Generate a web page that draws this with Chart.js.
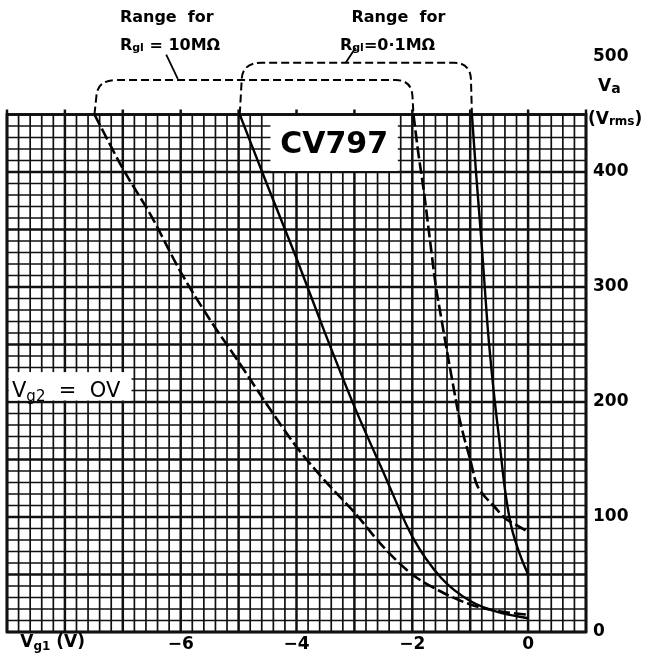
<!DOCTYPE html>
<html>
<head>
<meta charset="utf-8">
<script src="https://cdn.jsdelivr.net/npm/chart.js@4.4.1/dist/chart.umd.min.js"></script>
<style>
  html, body { margin: 0; padding: 0; background: #fff; }
</style>
</head>
<body>
<canvas id="cv797" width="650" height="664"></canvas>
<script>
// Vg1 (V) against output Va (Vrms)
// dashed = Rg1 10M, solid = Rg1 0.1M
const vgDashLeft = [-7.49, -7.0, -6.5, -6.0, -5.5, -5.0, -4.5, -4.0, -3.5, -3.0, -2.5, -2.0, -1.5, -1.0, -0.5, 0];
const vaDashLeft = [450, 403, 361, 313, 272, 235, 197, 161, 131, 104, 74, 50, 35, 24, 18, 15];

const vgSolidLeft = [-4.98, -4.5, -4.0, -3.5, -3.0, -2.5, -2.0, -1.5, -1.0, -0.5, 0];
const vaSolidLeft = [450, 388, 325, 259, 196, 139, 83, 47, 27, 17, 12];

const vgDashRight = [-1.98, -1.9, -1.8, -1.7, -1.6, -1.5, -1.4, -1.3, -1.2, -1.1, -1.0, -0.9, -0.8, -0.6, -0.4, -0.2, 0];
const vaDashRight = [450, 418, 383, 343, 303, 273, 244, 216, 189, 168, 150, 130, 121, 110, 99, 93, 87];

const vgSolidRight = [-0.97, -0.9, -0.8, -0.7, -0.6, -0.5, -0.4, -0.3, -0.2, -0.1, 0];
const vaSolidRight = [450, 400, 336, 266, 212, 168, 124, 94, 76, 62, 50];

const xTicks = [-6, -4, -2, 0];
const yTicks = [0, 100, 200, 300, 400, 500];

const xMin = -9, xMax = 1;
const yMin = 0, yMax = 500, gridTop = 450;

function pts(xs, ys) {
    return xs.map((v, i) => ({x: v, y: ys[i]}));
}

const FONT = '"DejaVu Sans", sans-serif';

// text with a lowered small part, e.g. V + g1
function subText(ctx, parts, x, y) {
    parts.forEach(p => {
        ctx.font = p[1];
        ctx.fillText(p[0], x, y + (p[2] || 0));
        x += ctx.measureText(p[0]).width;
    });
}

const paperGrid = {
    id: 'paperGrid',
    beforeDatasetsDraw(chart) {
        const ctx = chart.ctx;
        const x = chart.scales.x, y = chart.scales.y;
        const L = x.getPixelForValue(xMin), R = x.getPixelForValue(xMax);
        const T = y.getPixelForValue(gridTop), B = y.getPixelForValue(yMin);
        ctx.save();
        ctx.strokeStyle = '#111';
        for (let i = 0; i <= 50; i++) {
            const px = x.getPixelForValue(xMin + i * 0.2);
            const major = i % 5 === 0;
            ctx.lineWidth = major ? 2.5 : 1.7;
            ctx.beginPath();
            ctx.moveTo(px, B);
            ctx.lineTo(px, major ? T - 5 : T);
            ctx.stroke();
        }
        for (let j = 0; j <= 45; j++) {
            const py = y.getPixelForValue(j * 10);
            ctx.lineWidth = j % 5 === 0 ? 2.5 : 1.7;
            ctx.beginPath();
            ctx.moveTo(L, py);
            ctx.lineTo(R, py);
            ctx.stroke();
        }

        // white label boxes cut into the paper
        ctx.fillStyle = '#fff';
        let bx = x.getPixelForValue(-4.45), bx2 = x.getPixelForValue(-2.25);
        let by = y.getPixelForValue(450), by2 = y.getPixelForValue(400);
        ctx.fillRect(bx, by + 1.5, bx2 - bx, by2 - by - 2.5);
        ctx.fillStyle = '#000';
        ctx.font = 'bold 30px ' + FONT;
        ctx.textAlign = 'center';
        ctx.textBaseline = 'middle';
        ctx.fillText('CV797', (bx + bx2) / 2, (by + by2) / 2 + 2);

        bx = L; bx2 = x.getPixelForValue(-6.85);
        by = y.getPixelForValue(226); by2 = y.getPixelForValue(200);
        ctx.fillStyle = '#fff';
        ctx.fillRect(bx + 1.5, by, bx2 - bx - 1.5, by2 - by - 1.5);
        ctx.fillStyle = '#000';
        ctx.textAlign = 'left';
        ctx.textBaseline = 'alphabetic';
        subText(ctx, [['V', '21px ' + FONT], ['g2', '15px ' + FONT, 4], ['  =  OV', '21px ' + FONT]], bx + 5, by2 - 5);

        // frame
        ctx.lineWidth = 2.8;
        ctx.strokeRect(L, T, R - L, B - T);
        ctx.restore();
    },
    afterDraw(chart) {
        const ctx = chart.ctx;
        const x = chart.scales.x, y = chart.scales.y;
        ctx.save();
        ctx.fillStyle = '#000';
        ctx.strokeStyle = '#000';
        ctx.textBaseline = 'middle';
        ctx.textAlign = 'left';
        const B = 'bold 17px ' + FONT, S = 'bold 12px ' + FONT;

        // axis titles
        subText(ctx, [['V', B], ['a', 'bold 14px ' + FONT, 2]], x.right + 12, y.getPixelForValue(474));
        subText(ctx, [['(V', B], ['rms', S, 3], [')', B]], x.right + 2, y.getPixelForValue(446));
        subText(ctx, [['V', B], ['g1', S, 4], [' (V)', B]], x.getPixelForValue(-8.77), y.getPixelForValue(0) + 11);

        // range brackets
        ctx.lineWidth = 2;
        ctx.setLineDash([8, 4]);
        function bracket(v1, v2, top) {
            const a = x.getPixelForValue(v1), b = x.getPixelForValue(v2);
            const t = y.getPixelForValue(top), base = y.getPixelForValue(gridTop);
            ctx.beginPath();
            ctx.moveTo(a, base);
            ctx.lineTo(a + 2, t + 16);
            ctx.quadraticCurveTo(a + 3, t, a + 22, t);
            ctx.lineTo(b - 18, t);
            ctx.quadraticCurveTo(b - 2, t, b - 1, t + 16);
            ctx.lineTo(b, base);
            ctx.stroke();
        }
        bracket(vgDashLeft[0], vgDashRight[0], 480);
        bracket(vgSolidLeft[0], vgSolidRight[0], 495);
        ctx.setLineDash([]);
        ctx.lineWidth = 1.8;
        ctx.beginPath();
        ctx.moveTo(x.getPixelForValue(-6.25), y.getPixelForValue(502));
        ctx.lineTo(x.getPixelForValue(-6.05), y.getPixelForValue(481));
        ctx.moveTo(x.getPixelForValue(-3.15), y.getPixelForValue(495));
        ctx.lineTo(x.getPixelForValue(-2.98), y.getPixelForValue(508));
        ctx.stroke();

        const T = 'bold 16px ' + FONT;
        ctx.font = T;
        ctx.fillText('Range  for', x.getPixelForValue(-7.05), y.getPixelForValue(534));
        ctx.fillText('Range  for', x.getPixelForValue(-3.05), y.getPixelForValue(534));
        subText(ctx, [['R', T], ['gl', 'bold 11px ' + FONT, 3], [' = 10MΩ', T]],
            x.getPixelForValue(-7.05), y.getPixelForValue(510));
        subText(ctx, [['R', T], ['gl', 'bold 11px ' + FONT, 3], ['=0·1MΩ', T]],
            x.getPixelForValue(-3.25), y.getPixelForValue(510));
        ctx.restore();
    }
};

const ctx = document.getElementById('cv797').getContext('2d');

new Chart(ctx, {
    type: 'line',
    data: {
        datasets: [
            { label: 'Rg1 10M a', data: pts(vgDashLeft, vaDashLeft), borderDash: [12, 4], borderWidth: 2.6 },
            { label: 'Rg1 0.1M a', data: pts(vgSolidLeft, vaSolidLeft), borderWidth: 2.4 },
            { label: 'Rg1 10M b', data: pts(vgDashRight, vaDashRight), borderDash: [12, 4], borderWidth: 2.6 },
            { label: 'Rg1 0.1M b', data: pts(vgSolidRight, vaSolidRight), borderWidth: 2.4 }
        ].map(d => Object.assign(d, {
            borderColor: '#000',
            pointRadius: 0,
            cubicInterpolationMode: 'monotone',
            fill: false
        }))
    },
    options: {
        responsive: false,
        animation: false,
        events: [],
        layout: { padding: { left: 7, top: 57, right: 0, bottom: 0 } },
        plugins: { legend: { display: false }, tooltip: { enabled: false } },
        scales: {
            x: {
                type: 'linear',
                min: xMin,
                max: xMax,
                grid: { display: false, drawTicks: false },
                border: { display: false },
                afterBuildTicks: s => { s.ticks = xTicks.map(v => ({value: v})); },
                afterFit: s => { s.height = 32; },
                ticks: {
                    color: '#000',
                    padding: 2,
                    font: { family: FONT, size: 17, weight: 'bold' },
                    callback: v => v < 0 ? '\u2212' + Math.abs(v) : String(v)
                }
            },
            y: {
                type: 'linear',
                position: 'right',
                min: yMin,
                max: yMax,
                grid: { display: false, drawTicks: false },
                border: { display: false },
                afterBuildTicks: s => { s.ticks = yTicks.map(v => ({value: v})); },
                afterFit: s => { s.width = 64; },
                ticks: {
                    color: '#000',
                    padding: 7,
                    font: { family: FONT, size: 17, weight: 'bold' }
                }
            }
        }
    },
    plugins: [paperGrid]
});
</script>
</body>
</html>
